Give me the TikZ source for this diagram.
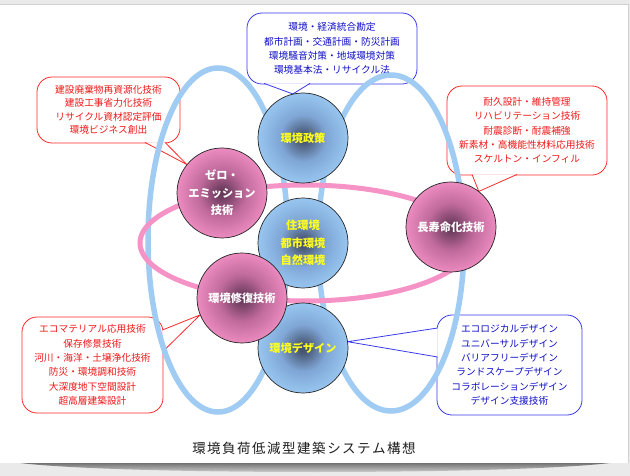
\documentclass[tikz,border=0pt]{standalone}
\usepackage{fontspec}
\newfontfamily\jp{Noto Sans CJK JP}
\usetikzlibrary{calc}
\definecolor{bdark}{HTML}{46546F}
\definecolor{bmid}{HTML}{7FA6D6}
\definecolor{blight}{HTML}{9CCBF4}
\definecolor{pdark}{HTML}{6A3A5C}
\definecolor{pmid}{HTML}{C06A9C}
\definecolor{plight}{HTML}{F390C5}
\definecolor{ringblue}{HTML}{A0CCF4}
\definecolor{ringpink}{HTML}{F693C6}
\definecolor{cored}{HTML}{FF2A2A}
\definecolor{coblue}{HTML}{3A3AF0}
\definecolor{txred}{HTML}{F01818}
\definecolor{txblue}{HTML}{1010C8}
\definecolor{lblyellow}{HTML}{FFFF1E}
\definecolor{pagebg}{HTML}{EAEAEA}
\pgfdeclareradialshading{blueball}{\pgfpoint{0bp}{0bp}}{color(0bp)=(bdark); color(2bp)=(bdark); color(13bp)=(bmid); color(27bp)=(blight); color(50bp)=(blight)}
\pgfdeclareradialshading{pinkball}{\pgfpoint{0bp}{0bp}}{color(0bp)=(pdark); color(2bp)=(pdark); color(13bp)=(pmid); color(27bp)=(plight); color(50bp)=(plight)}
\tikzset{
  callbox/.style={draw=#1, fill=white, line width=0.8pt, rounded corners=15pt, inner sep=0pt, align=center},
  redtext/.style={text=txred, font=\jp\fontsize{9.7}{14.3}\selectfont},
  bluetext/.style={text=txblue, font=\jp\fontsize{9.7}{14.3}\selectfont},
  ptr/.style={draw=#1, line width=0.8pt},
  ptrfill/.style={fill=white},
  ballnode/.style={circle, minimum size=90pt, inner sep=0pt, draw=black!85, line width=0.7pt, shade, shading=#1, align=center},
  bluelabel/.style={text=lblyellow, font=\jp\bfseries\fontsize{11.2}{17.5}\selectfont},
  pinklabel/.style={text=white, font=\jp\bfseries\fontsize{11.2}{17.5}\selectfont},
  bluering/.style={draw=ringblue, line width=5.5pt},
  pinkring/.style={draw=ringpink, line width=5pt}
}
\newcommand{\capgap}{\hspace{1.5pt}}
\begin{document}
\begin{tikzpicture}[x=1pt,y=-1pt]
\useasboundingbox (0,0) rectangle (630,476);
% page background, panel and shadow
\fill[pagebg] (0,0) rectangle (630,476);
\shade[top color=black!55, bottom color=pagebg] (20,463) .. controls (120,475) and (510,475) .. (610,463) -- cycle;
\fill[white] (0,4) rectangle (628,463);
\draw[black!18, line width=0.5pt] (0,4) -- (628,4) -- (628,463);

% circle centres
\coordinate (polC) at (303,138);
\coordinate (zeroC) at (222,193);
\coordinate (coreC) at (303,243);
\coordinate (repC) at (242,298);
\coordinate (desC) at (303,348);
\coordinate (longC) at (451,227);

% callouts
\node[callbox=coblue, bluetext, minimum width=170pt, minimum height=71pt] (c1) at (332,48.5)
  {環境・経済統合勘定\\都市計画・交通計画・防災計画\\環境騒音対策・地域環境対策\\環境基本法・リサイクル法};
\node[callbox=cored, redtext, font=\jp\fontsize{9.7}{13.5}\selectfont, minimum width=143pt, minimum height=66pt] (c2) at (108.5,110)
  {建設廃棄物再資源化技術\\建設工事省力化技術\\リサイクル資材認定評価\\環境ビジネス創出};
\node[callbox=cored, redtext, minimum width=160pt, minimum height=89pt] (c3) at (527,130.5)
  {耐久設計・維持管理\\リハビリテーション技術\\耐震診断・耐震補強\\新素材・高機能性材料応用技術\\スケルトン・インフィル};
\node[callbox=cored, redtext, minimum width=141pt, minimum height=96pt] (c4) at (92.5,365)
  {エコマテリアル応用技術\\保存修景技術\\河川・海洋・土壌浄化技術\\防災・環境調和技術\\大深度地下空間設計\\超高層建築設計};
\node[callbox=coblue, bluetext, minimum width=145pt, minimum height=100pt] (c5) at (509.5,365)
  {エコロジカルデザイン\\ユニバーサルデザイン\\バリアフリーデザイン\\ランドスケープデザイン\\コラボレーションデザイン\\デザイン支援技術};

% pointer base points
\coordinate (b1a) at (264,83.4);
\coordinate (b1b) at (310,83.4);
\coordinate (b2a) at (145,142.4);
\coordinate (b2b) at (165,142.4);
\coordinate (b3a) at (472,174.4);
\coordinate (b3b) at (517,174.4);
\coordinate (b4a) at (162.4,330);
\coordinate (b4b) at (162.4,352);
\coordinate (b5a) at (437.6,328);
\coordinate (b5b) at (437.6,357);

% circle outlines for anchors
\path (polC) node[circle, minimum size=90pt, inner sep=0pt] (pol0) {};
\path (zeroC) node[circle, minimum size=90pt, inner sep=0pt] (zero0) {};
\path (repC) node[circle, minimum size=90pt, inner sep=0pt] (rep0) {};
\path (desC) node[circle, minimum size=90pt, inner sep=0pt] (des0) {};
\path (longC) node[circle, minimum size=90pt, inner sep=0pt] (long0) {};

\fill[ptrfill] (b1a) -- (pol0.103) -- (b1b) -- cycle;
\draw[ptr=coblue] (b1a) -- (pol0.103) -- (b1b);
\fill[ptrfill] (b2a) -- (zero0.141) -- (b2b) -- cycle;
\draw[ptr=cored] (b2a) -- (zero0.141) -- (b2b);
\fill[ptrfill] (b3a) -- (long0.52) -- (b3b) -- cycle;
\draw[ptr=cored] (b3a) -- (long0.52) -- (b3b);
\fill[ptrfill] (b4a) -- (rep0.202) -- (b4b) -- cycle;
\draw[ptr=cored] (b4a) -- (rep0.202) -- (b4b);
\fill[ptrfill] (b5a) -- (des0.8) -- (b5b) -- cycle;
\draw[ptr=coblue] (b5a) -- (des0.8) -- (b5b);

% rings
\draw[bluering] (218,240) ellipse [x radius=70, y radius=172];
\draw[bluering] (391,243) ellipse [x radius=73, y radius=168];
\draw[pinkring] (305,243) ellipse [x radius=165, y radius=58];

% circles
\node[ballnode=blueball, bluelabel] (pol) at (polC) {環境政策};
\node[ballnode=pinkball, pinklabel] (zero) at (zeroC) {ゼロ・\\エミッション\\技術};
\node[ballnode=pinkball, pinklabel] (long) at (longC) {長寿命化技術};
\node[ballnode=blueball, bluelabel] (core) at (coreC) {住環境\\都市環境\\自然環境};
\node[ballnode=blueball, bluelabel] (des) at (desC) {環境デザイン};
\node[ballnode=pinkball, pinklabel] (rep) at (repC) {環境修復技術};

% caption
\node[text=black!88, font=\jp\fontsize{13.5}{15}\selectfont] (cap) at (304,448)
  {環\capgap 境\capgap 負\capgap 荷\capgap 低\capgap 減\capgap 型\capgap 建\capgap 築\capgap シ\capgap ス\capgap テ\capgap ム\capgap 構\capgap 想};
\end{tikzpicture}
\end{document}
